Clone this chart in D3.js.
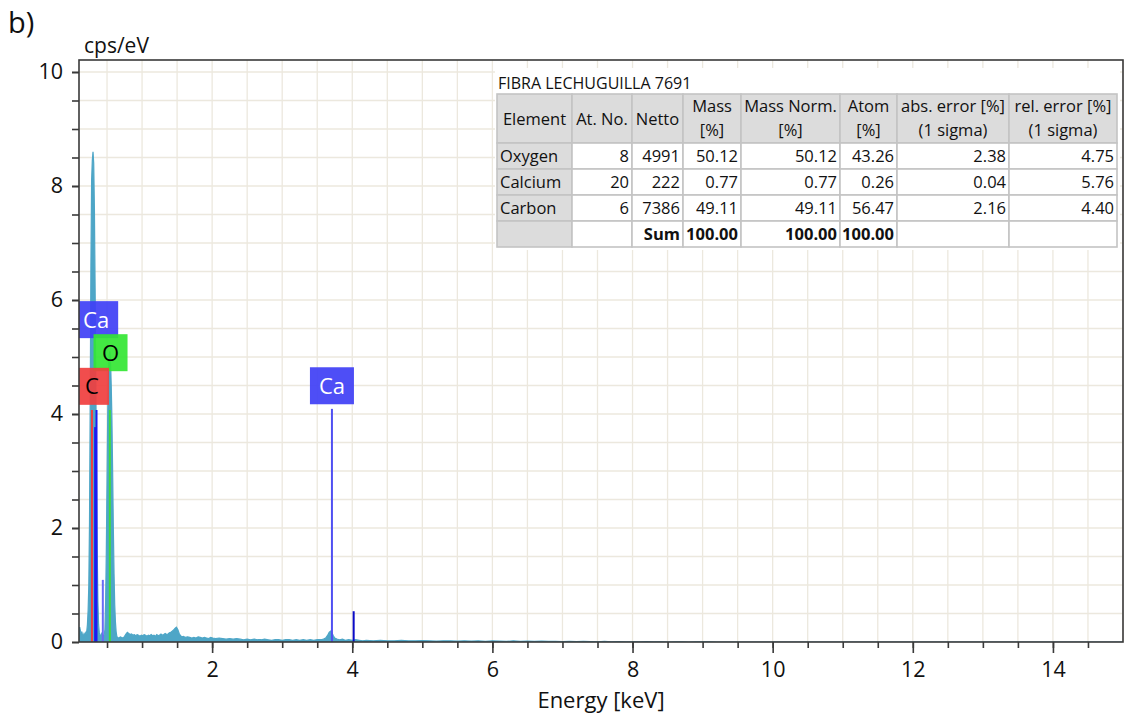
<!DOCTYPE html>
<html><head><meta charset="utf-8">
<script src="https://cdn.jsdelivr.net/npm/d3@7"></script>
<style>
body{margin:0;background:#fff;}
svg{display:block;font-family:"Open Sans","Noto Sans",sans-serif;}
</style>
</head><body>
<svg id="chart" width="1127" height="719"></svg>
<script>
// ---------- data ----------
const energyKeV = [
 0.10,0.11,0.12,0.13,0.14,0.15,0.16,0.17,0.18,0.19,0.20,0.21,0.22,0.23,0.24,0.25,0.26,0.27,0.28,0.29,
 0.30,0.31,0.32,0.33,0.34,0.35,0.36,0.37,0.38,0.39,0.40,0.41,0.42,0.43,0.44,0.45,0.46,0.47,0.48,0.49,
 0.50,0.51,0.52,0.53,0.54,0.55,0.56,0.57,0.58,0.59,0.60,0.61,0.62,0.63,0.64,0.65,0.67,0.69,0.71,0.73,
 0.75,0.77,0.79,0.81,0.83,0.85,0.87,0.89,0.91,0.93,0.95,0.97,0.99,1.01,1.03,1.05,1.07,1.09,1.11,1.13,
 1.15,1.17,1.19,1.21,1.23,1.25,1.27,1.29,1.31,1.33,1.35,1.37,1.39,1.41,1.43,1.45,1.47,1.49,1.51,1.53,
 1.55,1.57,1.59,1.62,1.65,1.68,1.71,1.74,1.77,1.80,1.83,1.86,1.89,1.92,1.95,1.98,2.01,2.05,2.10,2.15,
 2.20,2.25,2.30,2.35,2.40,2.45,2.50,2.55,2.60,2.65,2.70,2.75,2.80,2.85,2.90,2.95,3.00,3.05,3.10,3.15,
 3.20,3.25,3.30,3.35,3.40,3.45,3.50,3.55,3.59,3.62,3.65,3.67,3.69,3.71,3.73,3.75,3.78,3.82,3.86,3.90,
 3.95,4.00,4.05,4.10,4.15,4.20,4.30,4.40,4.50,4.60,4.70,4.80,4.90,5.00,5.10,5.20,5.30,5.40,5.50,5.60,
 5.70,5.80,5.90,6.00,6.10,6.20,6.30,6.40,6.50,6.60,6.70,6.80,6.90,7.00,7.10,7.20,7.30,7.40,7.50,7.60,
 7.70,7.80,7.90,8.00,8.10,8.20,8.30,8.40,8.50,8.60,8.70,8.80,8.90,9.00,9.10,9.20,15.0
];
const countsCps = [
 0.22,0.26,0.20,0.14,0.18,0.12,0.10,0.14,0.11,0.16,0.13,0.18,0.30,0.55,1.00,2.10,4.20,6.60,8.10,8.45,
 8.60,8.40,7.60,6.20,4.60,3.00,1.60,0.70,0.30,0.16,0.12,0.09,0.14,0.10,0.12,0.09,0.13,0.22,0.70,1.60,
 2.80,4.00,4.70,5.05,5.10,4.95,4.50,3.90,3.00,2.00,1.20,0.65,0.35,0.18,0.10,0.08,0.07,0.09,0.08,0.07,
 0.10,0.14,0.17,0.15,0.13,0.14,0.12,0.13,0.11,0.13,0.12,0.10,0.12,0.11,0.13,0.12,0.10,0.12,0.11,0.13,
 0.11,0.12,0.10,0.13,0.11,0.12,0.14,0.12,0.13,0.15,0.13,0.14,0.16,0.17,0.19,0.21,0.24,0.26,0.22,0.15,
 0.11,0.09,0.10,0.08,0.09,0.08,0.07,0.08,0.07,0.09,0.08,0.07,0.08,0.07,0.06,0.08,0.07,0.06,0.07,0.06,
 0.05,0.06,0.05,0.06,0.05,0.04,0.05,0.04,0.05,0.04,0.04,0.05,0.04,0.03,0.04,0.04,0.03,0.04,0.04,0.03,
 0.04,0.03,0.04,0.03,0.04,0.03,0.04,0.04,0.05,0.07,0.12,0.17,0.19,0.16,0.11,0.07,0.05,0.04,0.05,0.03,
 0.04,0.03,0.04,0.03,0.02,0.03,0.02,0.03,0.02,0.02,0.03,0.02,0.02,0.025,0.02,0.015,0.02,0.02,0.015,0.02,
 0.015,0.02,0.01,0.02,0.015,0.01,0.02,0.01,0.015,0.01,0.015,0.01,0.012,0.008,0.012,0.005,0.01,0.006,0.004,0.01,
 0.003,0.005,0.002,0.004,0.002,0.006,0.001,0.003,0,0.002,0.004,0,0.002,0.003,0.004,0,0
];

// element marker lines
const markerElements = ["C","Ca","Ca","Ca","O","Ca","Ca"];
const markerEnergies = [0.285,0.33,0.35,0.44,0.54,3.71,4.02];
const markerHeights  = [4.07,3.77,4.07,1.09,4.07,4.09,0.54];

// element labels
const labelTexts    = ["Ca","O","C","Ca"];
const labelEnergies = [0.345,0.55,0.285,3.71];
const labelTops     = [5.98,5.40,4.81,4.82];

// axis ticks
const xTickLabels = [2,4,6,8,10,12,14];
const yTickLabels = [0,2,4,6,8,10];

// results table
const tableTitle = "FIBRA LECHUGUILLA 7691";
const tableHeaders = [["Element"],["At. No."],["Netto"],["Mass","[%]"],["Mass Norm.","[%]"],["Atom","[%]"],["abs. error [%]","(1 sigma)"],["rel. error [%]","(1 sigma)"]];
const tableRows = [
 ["Oxygen","8","4991","50.12","50.12","43.26","2.38","4.75"],
 ["Calcium","20","222","0.77","0.77","0.26","0.04","5.76"],
 ["Carbon","6","7386","49.11","49.11","56.47","2.16","4.40"]
];
const tableSum = ["","","Sum","100.00","100.00","100.00","",""];

// ---------- layout / styles ----------
const L = 79, R = 1123, T = 60, B = 642;
const svg = d3.select("#chart");
const x = d3.scaleLinear().domain([0.1, 15]).range([L, R]);
const y = d3.scaleLinear().domain([0, (B - T) / 57]).range([B, T]);

const gridColor = "#ece8de";
const specColor = "#4ea6c7";
const markerColors = ["#ee4040","#1c1cf0","#1c1cf0","#6a6af5","#3ddc3d","#5050f2","#0a0ac8"];
const boxFill = {C:"#f03e3e", O:"#33e633", Ca:"#3f3ff5"};
const boxText = {C:"#000", O:"#000", Ca:"#fff"};

svg.append("defs").append("clipPath").attr("id","plotclip")
  .append("rect").attr("x",L).attr("y",T).attr("width",R-L).attr("height",B-T);

// grid
const grid = svg.append("g");
const xGridVals = d3.range(1, 31).map(i => i * 0.5);
const yGridVals = d3.range(1, 21).map(i => i * 0.5);
grid.selectAll("line.vx").data(xGridVals).join("line")
  .attr("x1", d => x(d)).attr("x2", d => x(d)).attr("y1", T).attr("y2", B)
  .attr("stroke", gridColor).attr("stroke-width", 1.3);
grid.selectAll("line.hy").data(yGridVals).join("line")
  .attr("x1", L).attr("x2", R).attr("y1", d => y(d)).attr("y2", d => y(d))
  .attr("stroke", gridColor).attr("stroke-width", 1.3);

// spectrum
const spec = energyKeV.map((e, i) => [e, countsCps[i]]);
const plotG = svg.append("g").attr("clip-path","url(#plotclip)");
plotG.append("path").datum(spec)
  .attr("d", d3.area().x(d => x(d[0])).y0(y(0)).y1(d => y(d[1])))
  .attr("fill", specColor).attr("stroke", specColor).attr("stroke-width", 1.2)
  .attr("stroke-linejoin","miter");

// marker lines
plotG.selectAll("line.mk").data(markerEnergies).join("line")
  .attr("x1", d => x(d)).attr("x2", d => x(d))
  .attr("y1", y(0)).attr("y2", (d, i) => y(markerHeights[i]))
  .attr("stroke", (d, i) => markerColors[i]).attr("stroke-width", 2);

// axes
const xMinor = d3.axisBottom(x).tickValues(d3.range(1, 30).map(i => i * 0.5)).tickSize(6).tickFormat("");
const xMajor = d3.axisBottom(x).tickValues(xTickLabels).tickSize(11).tickPadding(9).tickFormat(d3.format("d"));
const yMinor = d3.axisLeft(y).tickValues(d3.range(0, 21).map(i => i * 0.5)).tickSize(7).tickFormat("");
const yMajor = d3.axisLeft(y).tickValues(yTickLabels).tickSize(7).tickPadding(9).tickFormat(d3.format("d"));

function styleAxis(g){
  g.select(".domain").remove();
  g.selectAll(".tick line").attr("stroke","#3a3a3a").attr("stroke-width",1.6);
  g.selectAll(".tick text").attr("fill","#111").style("font-size","21.5px").style("font-family",'"Open Sans",sans-serif');
}
svg.append("g").attr("transform",`translate(0,${B})`).call(xMinor).call(styleAxis);
svg.append("g").attr("transform",`translate(0,${B})`).call(xMajor).call(styleAxis);
svg.append("g").attr("transform",`translate(${L},0)`).call(yMinor).call(styleAxis);
svg.append("g").attr("transform",`translate(${L},0)`).call(yMajor).call(styleAxis);

// frame
svg.append("rect").attr("x",L).attr("y",T).attr("width",R-L).attr("height",B-T)
  .attr("fill","none").attr("stroke","#3a3a3a").attr("stroke-width",1.6);

// element labels
const boxH = 37;
const lab = plotG.append("g");
labelTexts.forEach((t, i) => {
  const cx = x(labelEnergies[i]);
  const top = y(labelTops[i]);
  const w = t.length === 1 ? 34 : 44;
  lab.append("rect").attr("x", cx - w/2).attr("y", top).attr("width", w).attr("height", boxH)
    .attr("fill", boxFill[t]).attr("fill-opacity", 0.92);
  lab.append("text").attr("x", cx).attr("y", top + boxH/2 + 8)
    .attr("text-anchor","middle").attr("fill", boxText[t])
    .style("font-size","22px").text(t);
});

// titles
svg.append("text").attr("x",8).attr("y",33).style("font-size","29px").attr("fill","#111").text("b)");
svg.append("text").attr("x",84).attr("y",53).style("font-size","21px").attr("fill","#111").text("cps/eV");
svg.append("text").attr("x",(L+R)/2).attr("y",708).attr("text-anchor","middle")
  .style("font-size","22px").attr("fill","#111").text("Energy [keV]");

// table
const colEdges = [497,572,632,683,741,840,897,1009,1117];
const rowEdges = [94,143,169,195,221,247];
const tg = svg.append("g").style("font-size","16.5px").attr("fill","#111");
tg.append("rect").attr("x",495).attr("y",68).attr("width",625).attr("height",182).attr("fill","#fff");
tg.append("text").attr("x",498).attr("y",89).style("font-size","16px").text(tableTitle);
// cell backgrounds
const allRows = [null, ...tableRows, tableSum];
for (let r = 0; r < 5; r++) {
  for (let c = 0; c < 8; c++) {
    const gray = r === 0 || c === 0;
    tg.append("rect").attr("x",colEdges[c]).attr("y",rowEdges[r])
      .attr("width",colEdges[c+1]-colEdges[c]).attr("height",rowEdges[r+1]-rowEdges[r])
      .attr("fill", gray ? "#dcdcdc" : "#fff").attr("stroke","#c4c4c4").attr("stroke-width",1.6);
  }
}
// header text
tableHeaders.forEach((h, c) => {
  const cx = (colEdges[c] + colEdges[c+1]) / 2;
  if (h.length === 1) {
    tg.append("text").attr("x",cx).attr("y",124.5).attr("text-anchor","middle").text(h[0]);
  } else {
    tg.append("text").attr("x",cx).attr("y",111.5).attr("text-anchor","middle").text(h[0]);
    tg.append("text").attr("x",cx).attr("y",135.5).attr("text-anchor","middle").text(h[1]);
  }
});
// body text
allRows.forEach((row, r) => {
  if (!row) return;
  const ty = (rowEdges[r] + rowEdges[r+1]) / 2 + 6;
  row.forEach((v, c) => {
    if (v === "") return;
    const t = tg.append("text").attr("y", ty);
    if (c === 0) t.attr("x", colEdges[c] + 3).attr("text-anchor","start");
    else t.attr("x", colEdges[c+1] - 3).attr("text-anchor","end");
    if (r === 4) t.style("font-weight","bold");
    t.text(v);
  });
});
</script>
</body></html>
